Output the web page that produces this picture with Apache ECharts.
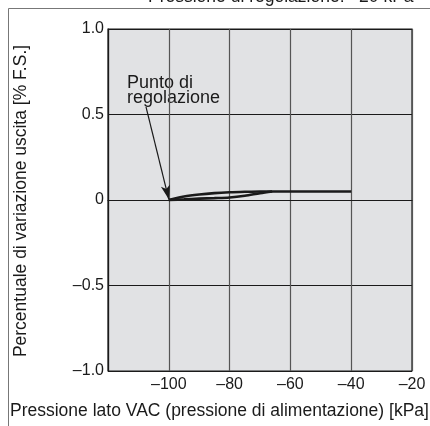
<!DOCTYPE html>
<html><head><meta charset="utf-8">
<script src="https://cdn.jsdelivr.net/npm/echarts@6/dist/echarts.min.js"></script>
<style>html,body{margin:0;padding:0;background:#fff}#c{width:430px;height:426px}</style>
</head><body><div id="c"></div>
<script>
const titleText = 'Pressione di regolazione: \u201320 kPa';
const xName = 'Pressione lato VAC (pressione di alimentazione) [kPa]';
const yName = 'Percentuale di variazione uscita [% F.S.]';
const xTicks = [-120, -100, -80, -60, -40, -20];
const yTicks = [-1.0, -0.5, 0, 0.5, 1.0];
// upper branch (rises faster)
const upperX = [-100, -95, -90, -85, -80, -75, -70, -65, -40];
const upperY = [0, 0.02, 0.032, 0.04, 0.045, 0.048, 0.05, 0.05, 0.05];
// lower branch
const lowerX = [-100, -95, -90, -85, -80, -75, -70, -66];
const lowerY = [0, 0.004, 0.008, 0.011, 0.015, 0.025, 0.04, 0.05];
const annotText = 'Punto di\nregolazione';
const arrowFrom = [-107.5, 0.545];
const arrowTo = [-100, 0.004];

const fmt = v => {
  const s = Math.abs(v) < 1e-9 ? '0' : (Number.isInteger(v) && Math.abs(v) >= 10 ? String(Math.abs(v)) : Math.abs(v).toFixed(1));
  return v < -1e-9 ? '\u2013' + s : s;
};
const font = 'Liberation Sans, Arial, sans-serif';
const chart = echarts.init(document.getElementById('c'));
chart.setOption({
  animation: false,
  backgroundColor: '#fff',
  textStyle: { fontFamily: font },
  grid: { left: 108, right: 18, top: 29, bottom: 55, show: true, backgroundColor: '#e1e2e4', borderColor: '#1a1a1a', borderWidth: 1.2 },
  xAxis: {
    type: 'value', min: xTicks[0], max: xTicks[xTicks.length - 1], interval: 20,
    axisLine: { show: true, lineStyle: { color: '#1a1a1a', width: 1.2 } },
    axisTick: { show: false },
    splitLine: { show: true, lineStyle: { color: '#555', width: 1.2 } },
    axisLabel: { color: '#1a1a1a', fontSize: 16, fontFamily: font, margin: 6,
      formatter: v => v === xTicks[0] ? '' : fmt(v) }
  },
  yAxis: {
    type: 'value', min: -1, max: 1, interval: 0.5,
    axisLine: { show: true, lineStyle: { color: '#1a1a1a', width: 1.2 } },
    axisTick: { show: false },
    splitLine: { show: true, lineStyle: { color: '#1a1a1a', width: 1 } },
    axisLabel: { color: '#1a1a1a', fontSize: 16, fontFamily: font, margin: 4, formatter: v => fmt(v) }
  },
  series: [
    { type: 'line', data: upperX.map((x, i) => [x, upperY[i]]), smooth: 0.3, showSymbol: false,
      lineStyle: { color: '#1a1a1a', width: 2.6 },
      markLine: { silent: true, symbol: ['none', 'arrow'], symbolSize: [7, 14],
        lineStyle: { color: '#1a1a1a', width: 1.2, type: 'solid' }, label: { show: false },
        data: [[{ coord: arrowFrom }, { coord: arrowTo }]] } },
    { type: 'line', data: lowerX.map((x, i) => [x, lowerY[i]]), smooth: 0.3, showSymbol: false,
      lineStyle: { color: '#1a1a1a', width: 2.6 } }
  ],
  graphic: [
    { type: 'line', shape: { x1: 8.5, y1: 8.5, x2: 8.5, y2: 426 }, style: { stroke: '#777', lineWidth: 1 } },
    { type: 'line', shape: { x1: 8.5, y1: 8.5, x2: 430, y2: 8.5 }, style: { stroke: '#777', lineWidth: 1 } },
    { type: 'text', left: 148, top: -12, style: { text: titleText, font: '17.5px ' + font, fill: '#1a1a1a' } },
    { type: 'text', left: 10, top: 402, style: { text: xName, font: '17.5px ' + font, fill: '#1a1a1a' } },
    { type: 'text', x: 21, y: 201, rotation: Math.PI / 2, style: { text: yName, font: '17.5px ' + font, fill: '#1a1a1a', align: 'center', verticalAlign: 'middle' } },
    { type: 'text', left: 127, top: 74, style: { text: annotText, font: '18px ' + font, fill: '#1a1a1a', lineHeight: 15.5 } }
  ]
});
</script></body></html>
